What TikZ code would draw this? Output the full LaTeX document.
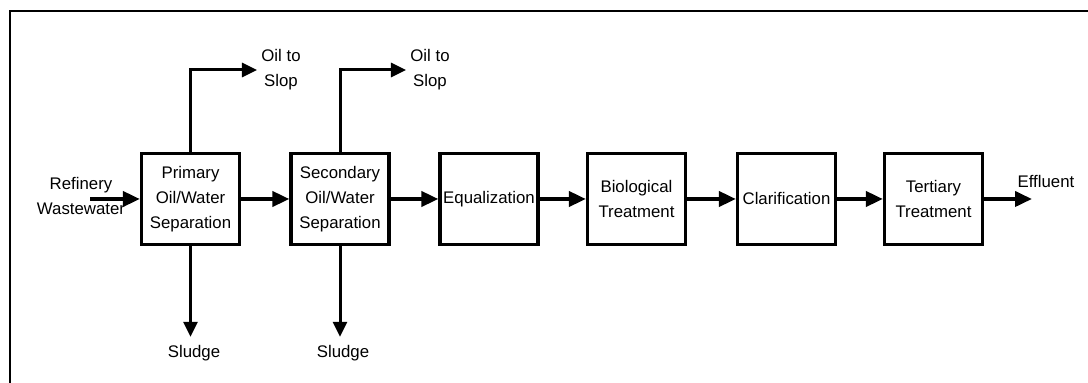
\documentclass[tikz,border=0pt]{standalone}
\usepackage{fontspec}
\setmainfont{Liberation Sans}
\usetikzlibrary{arrows.meta}

\begin{document}
\begin{tikzpicture}[x=0.5pt,y=-0.5pt,
    every node/.style={font=\fontsize{8.4}{12.5}\selectfont, align=center},
    stage/.style={draw, line width=1.6pt, minimum width=49pt, minimum height=45.5pt, inner sep=0pt},
    flow/.style={-{Triangle[length=8.5pt,width=7.5pt]}, line width=1.9pt},
    side/.style={-{Triangle[length=7.5pt,width=7pt]}, line width=1.5pt}]
    \useasboundingbox (0,0) rectangle (1088,383);
    \draw[line width=1.4pt] (10,383) -- (10,11) -- (1088,11);

    \node[stage] at (190.5,199) (prim) {Primary\\Oil/Water\\Separation};
    \node[stage] at (340,199) (sec) {Secondary\\Oil/Water\\Separation};
    \node[stage] at (489,199) (eq) {Equalization};
    \node[stage] at (636.5,199) (bio) {Biological\\Treatment};
    \node[stage] at (786.5,199) (clar) {Clarification};
    \node[stage] at (933.5,199) (tert) {Tertiary\\Treatment};

    \node at (81,196) (ref) {Refinery\\Wastewater};
    \coordinate (refin) at (90,199);
    \node at (1046,182) (eff) {Effluent};
    \coordinate (effout) at (1032,199);

    \node[inner sep=2pt] at (281,70) (oil1) {Oil to\\Slop};
    \node[inner sep=2pt] at (430,70) (oil2) {Oil to\\Slop};
    \node[inner sep=4pt] at (194,353) (sl1) {Sludge};
    \node[inner sep=4pt] at (343,353) (sl2) {Sludge};

    \draw[flow] (refin) -- (prim.west);
    \draw[flow] (prim) -- (sec);
    \draw[flow] (sec) -- (eq);
    \draw[flow] (eq) -- (bio);
    \draw[flow] (bio) -- (clar);
    \draw[flow] (clar) -- (tert);
    \draw[flow] (tert.east) -- (effout);

    \draw[side] (prim.north) |- (oil1.west);
    \draw[side] (sec.north) |- (oil2.west);
    \draw[side] (prim.south) -- (prim.south |- sl1.north);
    \draw[side] (sec.south) -- (sec.south |- sl2.north);
\end{tikzpicture}
\end{document}
